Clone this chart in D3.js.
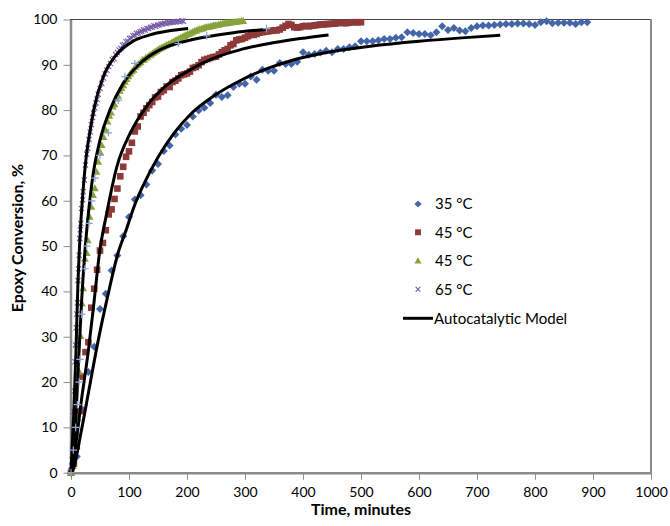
<!DOCTYPE html>
<html>
<head>
<meta charset="utf-8">
<script src="https://cdn.jsdelivr.net/npm/d3@7"></script>
<style>
  html, body { margin: 0; padding: 0; background: #fff; }
  svg { display: block; font-family: Lato, "Open Sans", sans-serif; }
</style>
</head>
<body>
<svg id="chart" width="670" height="526"></svg>
<script>
// Epoxy conversion (%) vs time (minutes) for several cure temperatures.

// measured data, [time, conversion]
const run35 = [[0,0],[10,3.6],[20,13.9],[30,22.2],[40,27.8],[50,36.1],[60,39.5],[70,44.6],[80,47.9],[90,52.2],[100,56.4],[110,60.3],[120,61.2],[130,63.6],[140,66.7],[150,68.1],[160,71.0],[170,72.2],[180,74.6],[190,75.9],[200,76.7],[210,78.6],[220,79.9],[230,80.5],[240,81.6],[250,83.4],[260,82.9],[270,83.3],[280,85.1],[290,85.8],[300,85.8],[310,87.4],[320,86.7],[330,88.9],[340,88.7],[350,88.7],[360,90.4],[370,90.2],[380,90.2],[390,90.7],[400,92.8],[410,92.2],[420,92.4],[430,92.7],[440,93.1],[450,92.8],[460,93.5],[470,93.5],[480,93.9],[490,94.1],[500,95.2],[510,95.2],[520,95.2],[530,95.4],[540,95.7],[550,95.7],[560,96.0],[570,96.1],[580,97.2],[590,97.0],[600,96.8],[610,96.8],[620,96.5],[630,97.2],[640,98.5],[650,97.7],[660,98.1],[670,97.6],[680,97.4],[690,98.1],[700,98.5],[710,98.7],[720,98.7],[730,98.8],[740,98.9],[750,99.0],[760,99.0],[770,99.1],[780,99.1],[790,99.0],[800,98.8],[810,99.4],[820,99.6],[830,99.2],[840,99.3],[850,99.3],[860,99.3],[870,99.0],[880,99.4],[890,99.4]];

const run45a = [[0,0],[5,2.0],[10,5.8],[15,13.6],[20,21.2],[25,26.6],[30,28.8],[35,36.4],[40,40.6],[45,44.8],[50,49.0],[55,50.7],[60,53.5],[65,57.0],[70,58.1],[75,60.4],[80,62.7],[85,65.4],[90,67.5],[95,69.7],[100,70.9],[105,72.8],[110,75.3],[115,76.4],[120,78.6],[125,79.4],[130,80.4],[135,81.1],[140,81.8],[145,82.8],[150,83.0],[155,84.0],[160,84.4],[165,85.2],[170,85.1],[175,86.2],[180,86.5],[185,87.0],[190,87.7],[195,87.9],[200,88.1],[205,88.5],[210,89.3],[215,89.5],[220,89.9],[225,90.6],[230,91.1],[235,91.3],[240,91.5],[245,91.7],[250,91.8],[255,92.3],[260,92.8],[265,93.2],[270,93.5],[275,94.3],[280,94.6],[285,95.4],[290,95.6],[295,95.7],[300,96.0],[305,96.3],[310,96.6],[315,96.6],[320,96.8],[325,97.1],[330,97.2],[335,97.3],[340,97.4],[345,97.5],[350,97.6],[355,97.6],[360,97.8],[365,98.2],[370,98.6],[375,99.0],[380,98.8],[385,98.3],[390,98.2],[395,98.3],[400,98.5],[405,98.6],[410,98.5],[415,98.6],[420,98.7],[425,98.8],[430,98.9],[435,98.9],[440,99.0],[445,99.0],[450,99.1],[455,99.1],[460,99.2],[465,99.3],[470,99.2],[475,99.2],[480,99.3],[485,99.4],[490,99.4],[495,99.4],[500,99.4]];

const run45b = [[0,0],[3,1.5],[6,4.6],[9,8.5],[11.5,12.1],[14,22.3],[16.5,30.2],[18.5,37.4],[21,40.7],[24,47.2],[27,48.5],[29,51.3],[32,56.5],[35,58.7],[38,61.3],[41,62.8],[44,66.4],[47,68.6],[50,70.8],[53,72.3],[56,74.1],[60,75.6],[63,77.5],[66,78.8],[69,79.5],[72,80.8],[75,81.3],[78,82.6],[81,83.2],[84,84.3],[87,84.9],[90,85.5],[93,86.3],[96,86.9],[99,87.5],[102,88.1],[105,88.6],[108,88.9],[111,89.6],[114,90.0],[117,90.3],[120,90.6],[123,91.1],[126,91.2],[129,91.6],[132,91.8],[135,92.1],[138,92.3],[141,92.6],[144,92.9],[147,93.1],[150,93.4],[153,93.6],[156,93.8],[159,94.0],[162,94.2],[165,94.4],[168,94.6],[171,94.7],[174,95.0],[177,95.2],[180,95.4],[183,95.6],[186,95.8],[189,96.0],[192,96.2],[195,96.4],[198,96.6],[201,96.8],[204,96.9],[207,97.1],[210,97.3],[213,97.5],[216,97.6],[219,97.8],[222,97.9],[225,98.0],[228,98.1],[231,98.3],[234,98.4],[237,98.4],[240,98.5],[243,98.6],[246,98.7],[249,98.8],[252,98.8],[255,98.9],[258,99.0],[261,99.1],[264,99.2],[267,99.2],[270,99.3],[273,99.3],[276,99.4],[279,99.4],[282,99.5],[285,99.5],[288,99.6],[291,99.6],[294,99.7],[297,99.7]];

const run65 = [[0,0.5],[1,1.5],[2,2.8],[3,5.0],[4,9.0],[5,13.5],[6,18.0],[7,24.5],[8,28.2],[9,32.0],[10,35.0],[11,37.5],[12,42.4],[13,45.0],[14,48.0],[15,51.7],[16,53.6],[17,55.0],[18,58.3],[20,60.2],[21,62.0],[23,64.6],[25,67.9],[27,70.3],[29,71.6],[31,73.5],[33,75.2],[35,76.8],[37,78.4],[39,79.3],[41,80.5],[43,81.6],[45,82.4],[47,83.5],[50,84.8],[53,85.9],[56,87.1],[59,88.0],[62,88.8],[65,89.6],[68,90.3],[71,91.1],[74,91.4],[77,92.3],[80,92.7],[83,93.3],[86,93.6],[89,94.3],[92,94.5],[95,95.1],[98,95.2],[101,95.8],[104,95.9],[107,96.4],[110,96.5],[113,96.9],[116,97.0],[119,97.3],[122,97.4],[125,97.7],[128,97.7],[131,98.0],[134,98.0],[137,98.3],[140,98.3],[143,98.6],[146,98.5],[149,98.8],[152,98.8],[155,99.0],[158,99.0],[161,99.2],[164,99.1],[167,99.3],[170,99.3],[173,99.4],[176,99.4],[179,99.5],[182,99.5],[185,99.6],[188,99.5],[191,99.7],[194,99.6]];

// unlabelled check points lying on the second 45 °C model curve
const checkPts = [[0,0],[4,5],[8,10],[11,15],[14,20],[15.5,25],[18.4,35],[24,45],[27,50],[31,55],[35.6,60],[41.4,65],[50,70],[64.4,75],[81.5,82.2],[93,87.4],[110,90.3],[185,94.7],[234,96.4],[337,98]];

// autocatalytic model curves, [time, conversion]
const model35 = [[0,0],[3,0.5],[17,8.7],[31,18.3],[46,28.6],[63,38.8],[81,48.4],[95,53.5],[109,58.8],[126,63.8],[149,69.4],[178,75.0],[207,79.2],[247,83.2],[293,86.6],[339,89.2],[379,90.9],[436,92.6],[516,94.1],[600,95.2],[680,96],[740,96.5]];
const model45a = [[0,0],[7,5],[18,16],[30,27],[40,38],[49,48.4],[61.5,57.2],[79,67.5],[102,74.9],[130,80.8],[165,85.5],[200,88.5],[245,91.4],[291,93.3],[337,94.6],[395,95.8],[444,96.6]];
const model45b = [[0,0],[7,8.7],[12.6,23.4],[18.4,38.1],[24,48.8],[30,57.2],[38.4,66.1],[50,73.4],[67,80],[90,85.9],[119,90.3],[153,93.3],[194,95.1],[234,96.2],[280,97.1],[337,97.8]];
const model65 = [[0,0],[5,14],[8.6,27],[11.5,40],[15.5,52],[21,62.5],[27,70.5],[33,75.5],[40,80.5],[56,87.5],[79,92.3],[107,95.2],[136,96.6],[165,97.4],[202,98]];

const xTicks = [0,100,200,300,400,500,600,700,800,900,1000];
const yTicks = [0,10,20,30,40,50,60,70,80,90,100];

const legendLabels = ["35 °C", "45 °C", "45 °C", "65 °C"];
const modelLabel = "Autocatalytic Model";

const svg = d3.select("#chart");
const x = d3.scaleLinear().domain([0, 1000]).range([71, 651]);
const y = d3.scaleLinear().domain([0, 100]).range([472.7, 19.5]);

// marker shapes
const shapes = {
  diamond: r => `M0,${-r}L${r},0L0,${r}L${-r},0Z`,
  square: r => `M${-r},${-r}H${r}V${r}H${-r}Z`,
  triangle: r => `M0,${-r * 1.05}L${r * 1.1},${r * 0.85}L${-r * 1.1},${r * 0.85}Z`,
  times: r => `M${-r},${-r}L${r},${r}M${-r},${r}L${r},${-r}`,
  plus: r => `M${-r},0H${r}M0,${-r}V${r}`
};

const series = [
  { data: run35, shape: "diamond", r: 4, fill: "#4466a8", stroke: "none" },
  { data: run45a, shape: "square", r: 3.3, fill: "#8e3a38", stroke: "none" },
  { data: run45b, shape: "triangle", r: 3.6, fill: "#86a33c", stroke: "none" },
  { data: run65, shape: "times", r: 2.6, fill: "none", stroke: "#7459a6" }
];

// frame: top and right edges of the plot area
svg.append("line").attr("x1", 70).attr("x2", 651).attr("y1", 19.5).attr("y2", 19.5)
  .attr("stroke", "#444").attr("stroke-width", 1);
svg.append("line").attr("x1", 651).attr("x2", 651).attr("y1", 19).attr("y2", 473)
  .attr("stroke", "#8a8a8a").attr("stroke-width", 2);

// axes
const xAxis = svg.append("g").attr("transform", "translate(0,472.7)")
  .call(d3.axisBottom(x).tickValues(xTicks).tickFormat(d3.format("d")).tickSize(7).tickSizeOuter(0));
const yAxis = svg.append("g").attr("transform", "translate(70.5,0)")
  .call(d3.axisLeft(y).tickValues(yTicks).tickFormat(d3.format("d")).tickSize(7).tickSizeOuter(0).tickPadding(6));
[xAxis, yAxis].forEach(g => {
  g.select(".domain").attr("stroke", "#8a8a8a").attr("stroke-width", 2.5);
  g.selectAll(".tick line").attr("stroke", "#8a8a8a").attr("stroke-width", 1);
  g.selectAll("text").attr("fill", "#000").style("font-size", "14px")
    .style("font-family", "Lato, 'Open Sans', sans-serif");
});
xAxis.selectAll("text").attr("y", 19).attr("dy", "0.35em");

// axis titles
svg.append("text").attr("x", 361).attr("y", 515).attr("text-anchor", "middle")
  .style("font-size", "16px").style("font-weight", "bold").text("Time, minutes");
svg.append("text").attr("transform", "translate(23,238) rotate(-90)").attr("text-anchor", "middle")
  .style("font-size", "16px").style("font-weight", "bold").text("Epoxy Conversion, %");

// measured points
const plot = svg.append("g");
series.forEach(s => {
  plot.append("g").selectAll("path").data(s.data).join("path")
    .attr("transform", d => `translate(${x(d[0])},${y(d[1])})`)
    .attr("d", shapes[s.shape](s.r))
    .attr("fill", s.fill)
    .attr("stroke", s.stroke)
    .attr("stroke-width", s.stroke === "none" ? 0 : 1.1);
});

// model curves
const line = d3.line().x(d => x(d[0])).y(d => y(d[1])).curve(d3.curveMonotoneX);
[model35, model45a, model45b, model65].forEach(m => {
  plot.append("path").datum(m).attr("d", line)
    .attr("fill", "none").attr("stroke", "#000").attr("stroke-width", 3)
    .attr("stroke-linejoin", "round").attr("stroke-linecap", "butt");
});

// check points on top
plot.append("g").selectAll("path").data(checkPts).join("path")
  .attr("transform", d => `translate(${x(d[0])},${y(d[1])})`)
  .attr("d", shapes.plus(3.8))
  .attr("fill", "none").attr("stroke", "#8ea4d6").attr("stroke-width", 1.2);

// legend
const legend = svg.append("g");
const rowY = [204, 232.3, 260.7, 289.3];
series.forEach((s, i) => {
  legend.append("path")
    .attr("transform", `translate(418,${rowY[i]})`)
    .attr("d", shapes[s.shape](s.r * 0.9))
    .attr("fill", s.fill).attr("stroke", s.stroke)
    .attr("stroke-width", s.stroke === "none" ? 0 : 1.1);
  legend.append("text").attr("x", 435).attr("y", rowY[i]).attr("dy", "0.35em")
    .style("font-size", "15px").text(legendLabels[i]);
});
legend.append("line").attr("x1", 403).attr("x2", 433).attr("y1", 318.3).attr("y2", 318.3)
  .attr("stroke", "#000").attr("stroke-width", 3);
legend.append("text").attr("x", 434).attr("y", 318.3).attr("dy", "0.35em")
  .style("font-size", "15px").text(modelLabel);
</script>
</body>
</html>
